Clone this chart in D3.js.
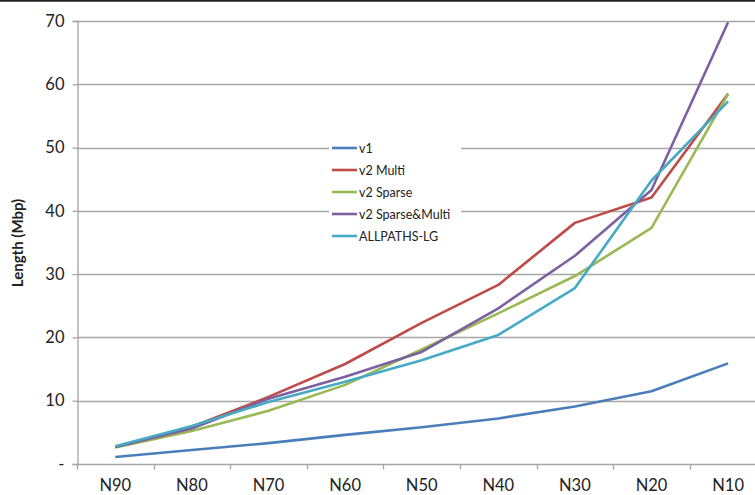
<!DOCTYPE html>
<html><head><meta charset="utf-8">
<script src="https://cdn.jsdelivr.net/npm/d3@7"></script>
<style>body{margin:0;background:#fff;}svg{display:block;font-family:Lato,"Open Sans",sans-serif;}</style>
</head><body>
<script>
const categories = ["N90","N80","N70","N60","N50","N40","N30","N20","N10"];
const seriesNames = ["v1","v2 Multi","v2 Sparse","v2 Sparse&Multi","ALLPATHS-LG"];
const v1 = [1.1, 2.2, 3.3, 4.6, 5.8, 7.2, 9.1, 11.5, 15.9];
const v2Multi = [2.7, 5.9, 10.6, 15.8, 22.3, 28.3, 38.1, 42.1, 58.5];
const v2Sparse = [2.6, 5.2, 8.4, 12.5, 18.1, 23.8, 29.7, 37.3, 58.5];
const v2SparseMulti = [2.7, 5.6, 10.3, 13.8, 17.7, 24.6, 32.9, 43.3, 69.8];
const allpaths = [2.8, 6.0, 9.8, 13.0, 16.4, 20.4, 27.8, 44.8, 57.3];
const yTicks = [0,10,20,30,40,50,60,70];
const colors = ["#4a7ebb","#be4b48","#98b954","#7d60a0","#46aac5"];
const seriesValues = [v1, v2Multi, v2Sparse, v2SparseMulti, allpaths];

const W = 755, H = 495;
const svg = d3.select("body").append("svg").attr("width", W).attr("height", H);
const x = d3.scaleBand().domain(categories).range([77, 766.4]).padding(0);
const y = d3.scaleLinear().domain([0,70]).range([464, 21]);

// top border line
svg.append("line").attr("x1",0).attr("x2",W).attr("y1",0.75).attr("y2",0.75)
  .attr("stroke","#222").attr("stroke-width",2);

// gridlines
svg.append("g").selectAll("line").data(yTicks.filter(d=>d>0)).join("line")
  .attr("x1",77).attr("x2",W).attr("y1",d=>Math.round(y(d))+0.5).attr("y2",d=>Math.round(y(d))+0.5)
  .attr("stroke","#a6a6a6").attr("stroke-width",1.3);

// y axis
const yAxis = d3.axisLeft(y).tickValues(yTicks).tickSize(5).tickPadding(8)
  .tickFormat(d => d===0 ? "-" : d);
const gy = svg.append("g").attr("transform","translate(77.5,0)").call(yAxis);
gy.select(".domain").attr("stroke","#a6a6a6").attr("stroke-width",1.3);
gy.selectAll(".tick line").attr("stroke","#a6a6a6").attr("stroke-width",1.3);
gy.selectAll(".tick text").attr("font-size",16.5).attr("fill","#222").attr("font-family","Lato,'Open Sans',sans-serif");

// x axis
const gx = svg.append("g").attr("transform","translate(0,464.5)");
gx.append("line").attr("x1",77).attr("x2",W).attr("stroke","#a6a6a6").attr("stroke-width",1.3);
const bounds = categories.map(c => x(c)).concat([x(categories[categories.length-1]) + x.bandwidth()]);
gx.selectAll("line.t").data(bounds).join("line").attr("class","t")
  .attr("x1",d=>Math.round(d)+0.5).attr("x2",d=>Math.round(d)+0.5).attr("y1",0).attr("y2",5)
  .attr("stroke","#a6a6a6").attr("stroke-width",1.3);
gx.selectAll("text").data(categories).join("text")
  .attr("x", d => x(d) + x.bandwidth()/2).attr("y", 26.5)
  .attr("text-anchor","middle").attr("font-size",16.5).attr("fill","#222").text(d=>d);

// y title
svg.append("text").attr("transform","translate(23,243) rotate(-90)")
  .attr("text-anchor","middle").attr("font-size",15).attr("font-weight","bold").attr("fill","#222")
  .text("Length (Mbp)");

// lines
const line = d3.line().x((d,i)=>x(categories[i]) + x.bandwidth()/2).y(d=>y(d));
svg.append("g").selectAll("path").data(seriesValues).join("path")
  .attr("d", d=>line(d)).attr("fill","none")
  .attr("stroke",(d,i)=>colors[i]).attr("stroke-width",2.6).attr("stroke-linejoin","round");

// legend
const lg = svg.append("g");
lg.append("rect").attr("x",329).attr("y",138).attr("width",132).attr("height",108).attr("fill","#fff");
const rows = lg.selectAll("g").data(seriesNames).join("g")
  .attr("transform",(d,i)=>`translate(0,${148 + i*22})`);
rows.append("line").attr("x1",332).attr("x2",357).attr("y1",0).attr("y2",0)
  .attr("stroke",(d,i)=>colors[i]).attr("stroke-width",2.6);
rows.append("text").attr("x",359).attr("y",4.5).attr("font-size",12.5).attr("fill","#222").text(d=>d);
</script>
</body></html>
